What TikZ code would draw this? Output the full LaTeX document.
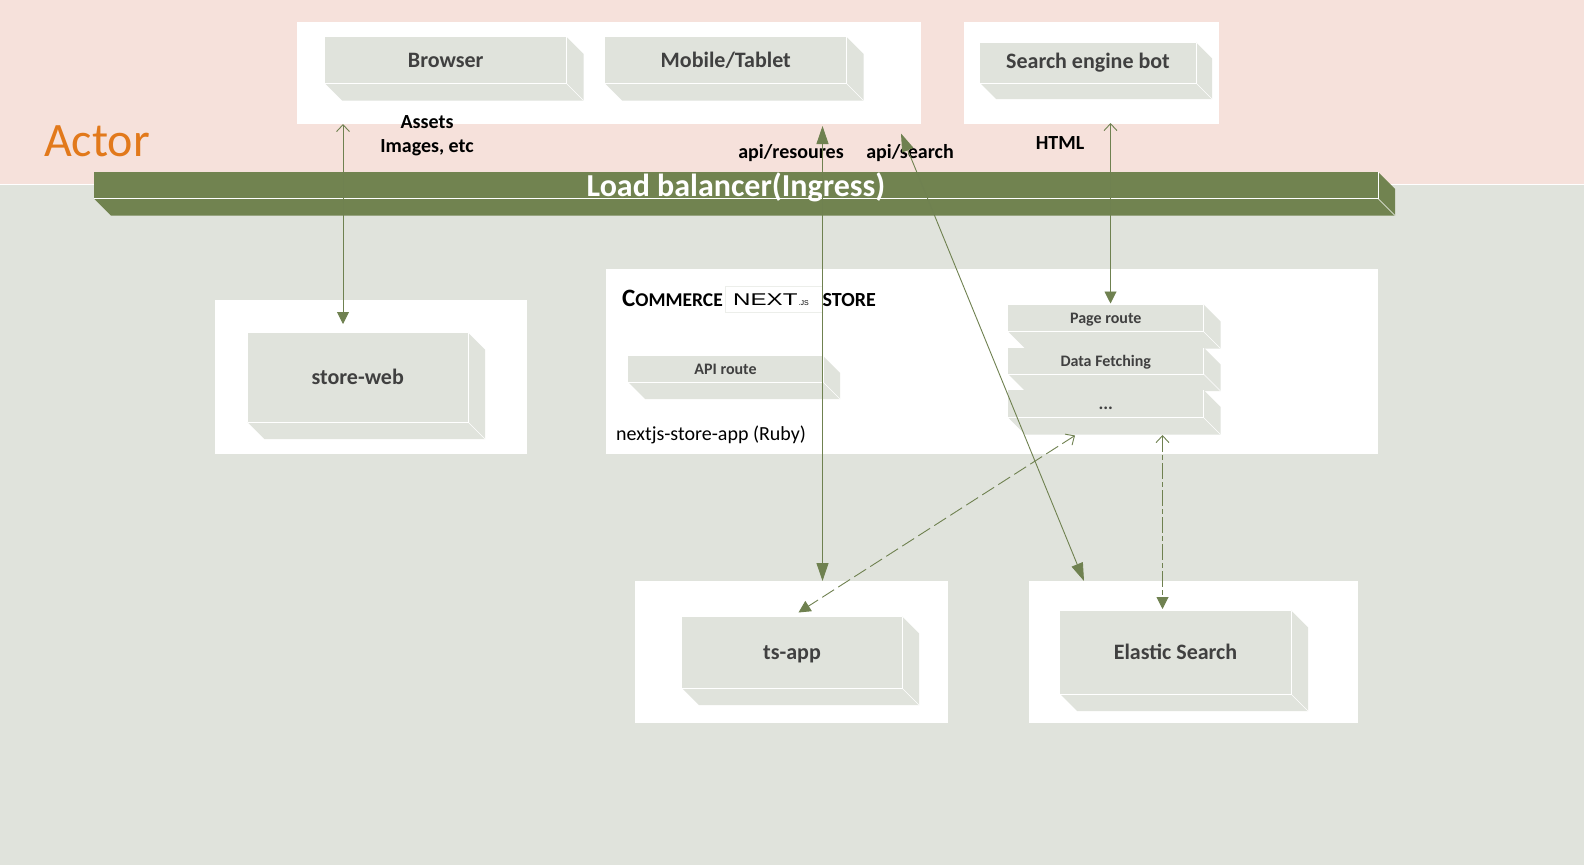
\documentclass[tikz,border=0pt]{standalone}
\usepackage{fontspec}
\setmainfont{Carlito}
\newfontfamily\logofont{Liberation Sans}
\usetikzlibrary{arrows.meta,calc,fit}

\definecolor{zonepink}{HTML}{F6E1DB}
\definecolor{zonegrey}{HTML}{E0E3DC}
\definecolor{bandgreen}{HTML}{718350}
\definecolor{linkgreen}{HTML}{6F8150}
\definecolor{labelgrey}{HTML}{404040}
\definecolor{actororange}{HTML}{E2791B}

\tikzset{
	panel/.style={fill=white, draw=none, inner sep=0pt, outer sep=0pt},
	slabgrey/.style={fill=zonegrey, draw=none, inner sep=0pt, outer sep=0pt, text=labelgrey},
	slabgreen/.style={fill=bandgreen, draw=none, inner sep=0pt, outer sep=0pt},
	link/.style={draw=linkgreen, line width=0.9pt},
	twotips/.style={{Triangle[length=18pt,width=12pt,fill=linkgreen]}-{Triangle[length=18pt,width=12pt,fill=linkgreen]}},
	barbtip/.style={{Straight Barb[length=7pt,width=13pt,line width=0.9pt]}-{Triangle[length=12pt,width=12pt,fill=linkgreen]}},
}

% style, name, corners, depth, label
\newcommand{\slab}[8]{
	\node[#1, minimum width={(#5-#3)*1pt}, minimum height={(#6-#4)*1pt}] (#2) at ({(#3+#5)/2},{(#4+#6)/2}) {#8};
	\fill[#1] (#2.south west) -- ++(#7,#7) -- ($(#2.south east)+(#7,#7)$) -- ($(#2.north east)+(#7,#7)$) -- (#2.north east) -- (#2.south east) -- cycle;
	\draw[white] (#2.south west) -- (#2.south east) -- (#2.north east);
	\draw[white] (#2.south east) -- ++(#7,#7);
}

\begin{document}
\begin{tikzpicture}[x=1pt,y=-1pt]
	\tikzstyle{every node}+=[inner sep=0pt]
	\useasboundingbox (0,0) rectangle (1584,865);
	\fill [zonegrey] (0,0) rectangle (1584,865);
	\fill [zonepink] (0,0) rectangle (1584,184);
	\draw [white] (0,184.5) -- (1584,184.5);

	\node[panel, fit={(297,22) (921,124)}] (clients) {};
	\node[panel, fit={(964,22) (1219,124)}] (bots) {};
	\node[panel, fit={(215,300) (527,453.5)}] (webpanel) {};
	\node[panel, fit={(606,268.5) (1378,453.5)}] (storepanel) {};
	\node[panel, fit={(635,581) (947.5,723)}] (tspanel) {};
	\node[panel, fit={(1029,581) (1358,723)}] (elasticpanel) {};

	\slab{slabgrey}{browser}{325}{37}{566.5}{83.5}{17}{\fontsize{22}{26}\selectfont\bfseries Browser}
	\slab{slabgrey}{mobile}{605}{37}{846.5}{83.5}{17}{\fontsize{22}{26}\selectfont\bfseries Mobile/Tablet}
	\slab{slabgrey}{searchbot}{980}{42.5}{1196}{83}{16}{\fontsize{22}{26}\selectfont\bfseries Search engine bot}
	\slab{slabgreen}{balancer}{94}{172}{1378}{198.5}{17}{}
	\slab{slabgrey}{storeweb}{247.5}{332.5}{468}{422}{17}{\fontsize{22}{26}\selectfont\bfseries store-web}
	\slab{slabgrey}{apiroute}{628}{356}{823}{382}{17}{\fontsize{16}{18}\selectfont\bfseries API route}
	\slab{slabgrey}{pageroute}{1008}{304.5}{1203.5}{331.5}{17}{\fontsize{16}{18}\selectfont\bfseries\raisebox{-1.5pt}[\height][\depth]{Page route}}
	\slab{slabgrey}{datafetch}{1008}{347.5}{1203.5}{374}{17}{\fontsize{16}{18}\selectfont\bfseries\raisebox{-1pt}[\height][\depth]{Data Fetching}}
	\slab{slabgrey}{moreroute}{1008}{390}{1203.5}{417.5}{17}{\fontsize{18}{18}\selectfont\bfseries\raisebox{-5pt}[\height][\depth]{...}}
	\slab{slabgrey}{tsapp}{682}{616.5}{902}{688}{17}{\fontsize{22}{26}\selectfont\bfseries\raisebox{-2pt}[\height][\depth]{ts-app}}
	\slab{slabgrey}{elastic}{1060}{610.5}{1291}{694}{17}{\fontsize{22}{26}\selectfont\bfseries Elastic Search}

	\node [font=\fontsize{48}{50}\selectfont, text=actororange, anchor=west] (actor) at (44,141) {Actor};
	\node [font=\fontsize{20}{24}\selectfont\bfseries, align=center] (assets) at (427,136) {Assets\\Images, etc};
	\node [font=\fontsize{20}{22}\selectfont\bfseries] (resources) at (791,153) {api/resoures};
	\node [font=\fontsize{20}{22}\selectfont\bfseries] (searchapi) at (910,153) {api/search};
	\node [font=\fontsize{20}{22}\selectfont\bfseries] (htmlpath) at (1060,143.5) {HTML};
	\node [font=\fontsize{20}{22}\selectfont, anchor=west] (storeapp) at (616,435) {nextjs-store-app (Ruby)};

	\node [draw=zonegrey!60, fill=white, fit={(725.5,286) (822,312)}] (logobox) {};
	\node [font=\fontsize{19.5}{24}\selectfont\bfseries, anchor=base east] (commerce) at (723,306) {{\fontsize{25}{24}\selectfont C}OMMERCE};
	\node [font=\fontsize{20}{24}\selectfont\bfseries, anchor=base west] (store) at (822.5,306) {STORE};
	\node [anchor=base west] (logotext) at (733,305) {\logofont\fontsize{17}{22}\selectfont\scalebox{1.42}[1]{NEXT}\fontsize{7}{7}\selectfont\hspace{1pt}.JS};

	\draw [link, barbtip] ([xshift=46pt]clients.south west) -- ([xshift=95.5pt,yshift=8.5pt]storeweb.north west);
	\draw [link, twotips] ([xshift=-98.5pt,yshift=-2pt]clients.south east) -- ([xshift=187.5pt]tspanel.north west);
	\draw [link, twotips] ([xshift=-20pt,yshift=-9.5pt]clients.south east) -- ([xshift=55pt]elasticpanel.north west);
	\draw [link, barbtip] ([xshift=146.5pt,yshift=1pt]bots.south west) -- ([xshift=102.5pt,yshift=1pt]pageroute.north west);
	\draw [link, barbtip, dash pattern=on 14pt off 5pt] ([xshift=67pt,yshift=-18pt]moreroute.south west) -- ([xshift=116.5pt,yshift=4pt]tsapp.north west);
	\draw [link, barbtip, dash pattern=on 16pt off 3pt on 5pt off 3pt] ([xshift=154.5pt,yshift=-17.5pt]moreroute.south west) -- ([xshift=102.5pt,yshift=1.5pt]elastic.north west);

	\node [font=\fontsize{32}{34}\selectfont\bfseries, text=white] (balancerlabel) at (736,187) {Load balancer(Ingress)};
\end{tikzpicture}
\end{document}
